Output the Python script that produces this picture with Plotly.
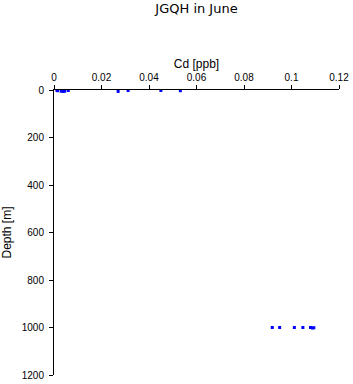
import plotly.graph_objects as go

# Surface samples
cd_surface = [0.0012, 0.0015, 0.0030, 0.0038, 0.0045, 0.0060, 0.0270, 0.0312, 0.0450, 0.0532]
depth_surface = [1, 3, 5, 6, 5, 2, 6, 2, 2, 3]
# Deep samples
cd_deep = [0.0919, 0.0950, 0.1012, 0.1048, 0.1080, 0.1088, 0.1094]
depth_deep = [1000, 1000, 1000, 1000, 1000, 1002, 1001]

cd = cd_surface + cd_deep
depth = depth_surface + depth_deep

fig = go.Figure()
fig.add_trace(go.Scatter(
    x=cd, y=depth, mode="markers",
    marker=dict(symbol="square", size=3, color="#0000FF", line=dict(width=0)),
    showlegend=False,
))

font = dict(family="Liberation Sans, Arial, sans-serif", size=10, color="black")
fig.update_layout(
    width=353, height=384,
    margin=dict(l=54, r=14, t=90, b=9, autoexpand=False),
    paper_bgcolor="white", plot_bgcolor="white",
    font=font,
    title=dict(text="JGQH in June", xref="container", x=196.5 / 353, xanchor="center",
               y=1 - 8.5 / 384, yanchor="middle",
               font=dict(family="DejaVu Sans, sans-serif", size=13, color="black")),
    xaxis=dict(
        side="top", range=[0, 0.12], tickvals=[0, 0.02, 0.04, 0.06, 0.08, 0.1, 0.12],
        ticktext=["0", "0.02", "0.04", "0.06", "0.08", "0.1", "0.12"],
        showline=True, linecolor="black", linewidth=1, ticks="outside", ticklen=4,
        tickcolor="black", showgrid=False, zeroline=False, automargin=False,
        title=dict(text="Cd [ppb]", standoff=0),
    ),
    yaxis=dict(
        range=[1200, 0], tickvals=[0, 200, 400, 600, 800, 1000, 1200],
        showline=True, linecolor="black", linewidth=1, ticks="outside", ticklen=4,
        tickcolor="black", showgrid=False, zeroline=False, automargin=False,
        ticklabelstandoff=3,
        title=dict(text="Depth [m]", standoff=9),
    ),
)

fig.write_html("out.html")
